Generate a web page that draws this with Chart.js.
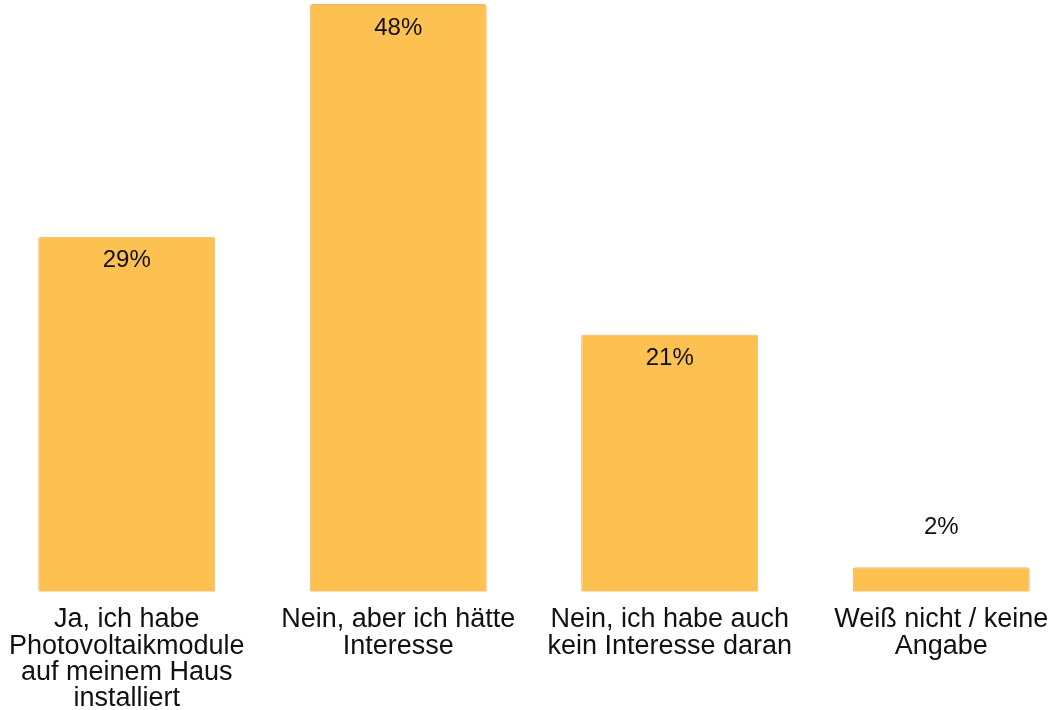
<!DOCTYPE html>
<html>
<head>
<meta charset="utf-8">
<script src="https://cdn.jsdelivr.net/npm/chart.js@4"></script>
<style>
    html, body { margin: 0; padding: 0; background: #fff; overflow: hidden; }
    #wrap { position: absolute; left: -9px; top: 0; width: 1086px; height: 710px; }
</style>
</head>
<body>
<div id="wrap"><canvas id="chart"></canvas></div>
<script>
// Kategorien (mehrzeilige Achsenbeschriftungen)
const categories = [
    ['Ja, ich habe', 'Photovoltaikmodule', 'auf meinem Haus', 'installiert'],
    ['Nein, aber ich hätte', 'Interesse'],
    ['Nein, ich habe auch', 'kein Interesse daran'],
    ['Weiß nicht / keine', 'Angabe']
];
// Anteile in Prozent
const values = [29, 48, 21, 2];

// Prozentwerte in/über den Balken schreiben
const valueLabels = {
    id: 'valueLabels',
    afterDatasetsDraw(chart) {
        const ctx = chart.ctx;
        const meta = chart.getDatasetMeta(0);
        ctx.save();
        ctx.font = '24px "Liberation Sans", Arial, sans-serif';
        ctx.fillStyle = '#111';
        ctx.textAlign = 'center';
        ctx.textBaseline = 'middle';
        meta.data.forEach(function(bar, i) {
            const h = bar.base - bar.y;
            const y = h > 50 ? bar.y + 24 : bar.y - 40;
            ctx.fillText(values[i] + '%', bar.x, y);
        });
        ctx.restore();
    }
};

new Chart(document.getElementById('chart').getContext('2d'), {
    type: 'bar',
    data: {
        labels: categories,
        datasets: [{
            data: values,
            backgroundColor: '#FDC152',
            borderColor: '#DDB673',
            borderWidth: 1,
            borderRadius: { topLeft: 3, topRight: 3 },
            borderSkipped: 'bottom',
            barPercentage: 0.652,
            categoryPercentage: 1
        }]
    },
    options: {
        responsive: true,
        maintainAspectRatio: false,
        animation: false,
        layout: { padding: { top: 4, bottom: -17 } },
        plugins: {
            legend: { display: false },
            tooltip: { enabled: false }
        },
        scales: {
            x: {
                grid: { display: false, drawTicks: false },
                border: { display: false },
                ticks: {
                    color: '#111',
                    padding: 15,
                    maxRotation: 0,
                    autoSkip: false,
                    font: { family: '"Liberation Sans", Arial, sans-serif', size: 27, lineHeight: 0.975 }
                }
            },
            y: {
                display: false,
                min: 0,
                max: 48
            }
        }
    },
    plugins: [valueLabels]
});
</script>
</body>
</html>
